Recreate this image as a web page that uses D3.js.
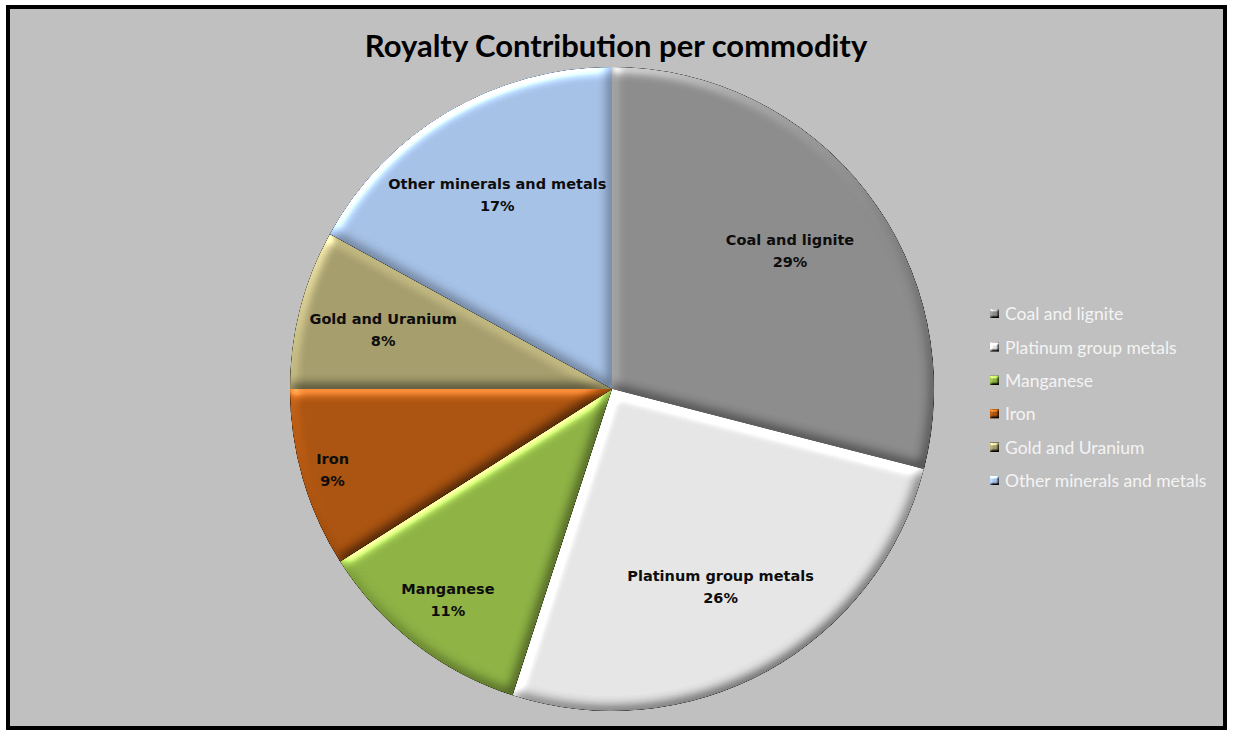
<!DOCTYPE html>
<html>
<head>
<meta charset="utf-8">
<script src="https://d3js.org/d3.v7.min.js"></script>
<style>
  body { margin: 0; background: #fff; }
  .title { font-family: Lato, sans-serif; font-weight: bold; font-size: 31px; fill: #000; }
  .slice-label { font-family: "DejaVu Sans", sans-serif; font-weight: bold; font-size: 14.5px; fill: #0d0d0d; }
  .legend-text { font-family: Lato, sans-serif; font-size: 17.5px; fill: #f4f4f4; }
</style>
</head>
<body>
<svg width="1233" height="730"></svg>
<script>
// data
const commodities = ["Coal and lignite", "Platinum group metals", "Manganese", "Iron", "Gold and Uranium", "Other minerals and metals"];
const shares = [29, 26, 11, 9, 8, 17];
const sliceColors = ["#8a8a8a", "#e3e3e3", "#8cb043", "#a9520f", "#a39b6b", "#a4bfe4"];

const W = 1233, H = 730;
const cx = 612, cy = 389, r = 322;

const svg = d3.select("svg");

// bevel filter, roughly like the excel 3d look
const defs = svg.append("defs");
function bevel(id, blur, scale) {
  const el = 40, az = 240;
  const f = defs.append("filter").attr("id", id)
    .attr("x", "-5%").attr("y", "-5%").attr("width", "110%").attr("height", "110%")
    .attr("color-interpolation-filters", "sRGB");
  f.append("feGaussianBlur").attr("in", "SourceAlpha").attr("stdDeviation", blur).attr("result", "blur");
  const dl = f.append("feDiffuseLighting").attr("in", "blur").attr("surfaceScale", scale)
    .attr("diffuseConstant", 0.5 / Math.sin(el * Math.PI / 180)).attr("lighting-color", "#fff").attr("result", "diff");
  dl.append("feDistantLight").attr("azimuth", az).attr("elevation", el);
  const sl = f.append("feSpecularLighting").attr("in", "blur").attr("surfaceScale", scale)
    .attr("specularConstant", 0.4).attr("specularExponent", 40).attr("lighting-color", "#fff").attr("result", "spec");
  sl.append("feDistantLight").attr("azimuth", az).attr("elevation", el);
  f.append("feComposite").attr("in", "SourceGraphic").attr("in2", "diff")
    .attr("operator", "arithmetic").attr("k1", 2).attr("k2", 0).attr("k3", 0).attr("k4", 0).attr("result", "shaded");
  f.append("feComposite").attr("in", "spec").attr("in2", "SourceAlpha").attr("operator", "in").attr("result", "specIn");
  f.append("feComposite").attr("in", "shaded").attr("in2", "specIn")
    .attr("operator", "arithmetic").attr("k1", 0).attr("k2", 1).attr("k3", 1).attr("k4", 0);
}
bevel("bevel", 6, 2.4);
bevel("bevelSmall", 1.2, 1.5);

// chart area + frame
svg.append("rect")
  .attr("x", 8).attr("y", 7).attr("width", W - 16).attr("height", H - 9)
  .attr("fill", "#c0c0c0").attr("stroke", "#000").attr("stroke-width", 4);

svg.append("text")
  .attr("class", "title")
  .attr("x", 616).attr("y", 57)
  .attr("text-anchor", "middle")
  .text("Royalty Contribution per commodity");

const color = d3.scaleOrdinal().domain(commodities).range(sliceColors);

const pie = d3.pie().sort(null).value(d => d.value);
const arcs = pie(commodities.map((c, i) => ({name: c, value: shares[i]})));
const arc = d3.arc().innerRadius(0).outerRadius(r);
const labelArc = d3.arc().innerRadius(r * 0.7).outerRadius(r * 0.7);

const g = svg.append("g").attr("transform", `translate(${cx},${cy})`);

g.selectAll("path.slice")
  .data(arcs)
  .enter().append("path")
  .attr("class", "slice")
  .attr("d", arc)
  .attr("fill", d => color(d.data.name))
  .attr("filter", "url(#bevel)");

const labels = g.selectAll("g.lbl")
  .data(arcs)
  .enter().append("g")
  .attr("class", "lbl");

labels.append("text")
  .attr("class", "slice-label")
  .attr("text-anchor", "middle")
  .attr("y", -3)
  .text(d => d.data.name);
labels.append("text")
  .attr("class", "slice-label")
  .attr("text-anchor", "middle")
  .attr("y", 19)
  .text(d => d.data.value + "%");

// big slices: label at the centroid; thin slices: push it out to the rim
labels.each(function(d) {
  const bb = this.getBBox();
  let px, py;
  if (d.endAngle - d.startAngle > 0.12 * 2 * Math.PI) {
    [px, py] = labelArc.centroid(d);
  } else {
    const mid = (d.startAngle + d.endAngle) / 2;
    const ux = Math.sin(mid), uy = -Math.cos(mid);
    const lim = r * 0.97;
    let lo = 0, hi = r;
    for (let k = 0; k < 30; k++) {
      const m = (lo + hi) / 2;
      let far = 0;
      [-bb.width / 2, bb.width / 2].forEach(x => [-bb.height / 2, bb.height / 2].forEach(y => {
        far = Math.max(far, Math.hypot(m * ux + x, m * uy + y));
      }));
      if (far > lim) hi = m; else lo = m;
    }
    px = lo * ux; py = lo * uy;
  }
  const tx = px - (bb.x + bb.width / 2);
  const ty = py - (bb.y + bb.height / 2);
  d3.select(this).attr("transform", `translate(${tx},${ty})`);
});

// legend
const legend = svg.selectAll(".legend")
  .data(commodities)
  .enter().append("g")
  .attr("class", "legend")
  .attr("transform", (d, i) => `translate(990,${314 + i * 33.4})`);

legend.append("rect")
  .attr("x", 0).attr("y", -5).attr("width", 9).attr("height", 9)
  .attr("fill", d => color(d))
  .attr("filter", "url(#bevelSmall)");

legend.append("text")
  .attr("class", "legend-text")
  .attr("x", 15).attr("y", 0)
  .attr("dy", "0.35em")
  .text(d => d);
</script>
</body>
</html>
